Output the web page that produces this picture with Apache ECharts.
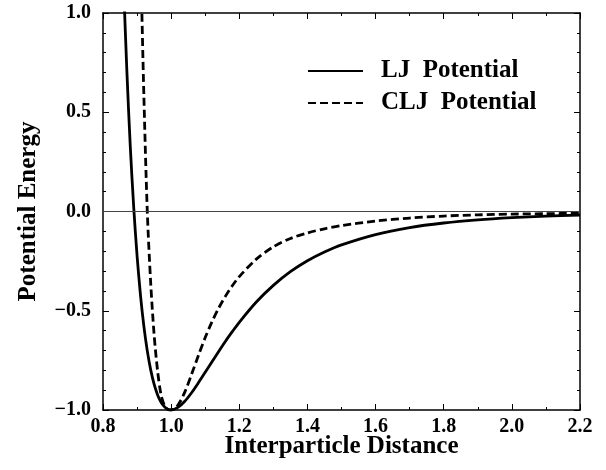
<!DOCTYPE html>
<html>
<head>
<meta charset="utf-8">
<script src="https://cdn.jsdelivr.net/npm/echarts@6/dist/echarts.min.js"></script>
<style>
  html, body { margin: 0; padding: 0; background: #fff; }
  #chart { width: 606px; height: 470px; }
</style>
</head>
<body>
<div id="chart"></div>
<script>
  // values
  var ljX = [0.85, 0.86, 0.87, 0.88, 0.89, 0.90, 0.91, 0.92, 0.93, 0.94, 0.95, 0.96, 0.97, 0.98, 0.99, 1.00,
    1.02, 1.04, 1.06, 1.08, 1.10, 1.12, 1.14, 1.16, 1.18, 1.20, 1.25, 1.30, 1.35, 1.40, 1.45, 1.50,
    1.60, 1.70, 1.80, 1.90, 2.00, 2.10, 2.20];
  var ljY = [1.73, 1.17, 0.71, 0.33, 0.025, -0.223, -0.421, -0.579, -0.702, -0.798, -0.870, -0.923, -0.960, -0.983, -0.996, -1.0,
    -0.987, -0.956, -0.913, -0.863, -0.810, -0.757, -0.704, -0.652, -0.604, -0.558, -0.456, -0.372, -0.303, -0.248, -0.204, -0.168,
    -0.116, -0.081, -0.058, -0.042, -0.031, -0.023, -0.018];

  var cljX = [0.905, 0.91, 0.92, 0.93, 0.94, 0.95, 0.96, 0.97, 0.98, 0.99, 1.00,
    1.02, 1.04, 1.06, 1.08, 1.10, 1.12, 1.14, 1.16, 1.18, 1.20, 1.25, 1.30, 1.35, 1.40, 1.45, 1.50,
    1.60, 1.70, 1.80, 1.90, 2.00, 2.10, 2.20];
  var cljY = [1.6, 1.3, 0.58, 0.0, -0.36, -0.62, -0.80, -0.92, -0.975, -0.997, -1.0,
    -0.975, -0.91, -0.82, -0.725, -0.635, -0.555, -0.485, -0.425, -0.373, -0.328, -0.24, -0.178, -0.136, -0.108, -0.087, -0.071,
    -0.048, -0.033, -0.023, -0.017, -0.013, -0.011, -0.009];

  var seriesNames = ['LJ  Potential', 'CLJ  Potential'];

  function pairs(xs, ys) {
    return xs.map(function (x, i) { return [x, ys[i]]; });
  }

  var font = 'Liberation Serif';
  var fmt = function (v) { return v.toFixed(1).replace('-', '\u2212'); };

  var axisBase = {
    type: 'value',
    axisLine: { show: true, onZero: false, lineStyle: { color: '#000', width: 1.5 } },
    axisTick: { show: true, inside: true, length: 6, lineStyle: { color: '#000', width: 1 } },
    minorTick: { show: true, length: 3, lineStyle: { color: '#000', width: 1 } },
    splitLine: { show: false },
    minorSplitLine: { show: false }
  };

  var myChart = echarts.init(document.getElementById('chart'));
  myChart.setOption({
    animation: false,
    backgroundColor: '#fff',
    grid: { left: 103, right: 26, top: 13, bottom: 60 },
    legend: {
      show: true,
      orient: 'vertical',
      left: 307,
      top: 56,
      padding: 0,
      itemWidth: 55,
      itemHeight: 14,
      itemGap: 2,
      itemStyle: { color: 'transparent', borderWidth: 0, opacity: 0 },
      textStyle: { fontFamily: font, fontWeight: 'bold', fontSize: 25, color: '#000', lineHeight: 30, padding: [0, 0, 0, 13] },
      data: seriesNames
    },
    xAxis: [
      Object.assign({}, axisBase, {
        min: 0.8, max: 2.2, interval: 0.2, position: 'bottom',
        minorTick: Object.assign({}, axisBase.minorTick, { splitNumber: 2 }),
        axisLabel: { formatter: fmt, fontFamily: font, fontWeight: 'bold', fontSize: 20, color: '#000', margin: 7 },
        name: 'Interparticle Distance',
        nameLocation: 'middle',
        nameGap: 24,
        nameMoveOverlap: false,
        nameTextStyle: { fontFamily: font, fontWeight: 'bold', fontSize: 25, color: '#000' }
      }),
      Object.assign({}, axisBase, {
        min: 0.8, max: 2.2, interval: 0.2, position: 'top',
        minorTick: Object.assign({}, axisBase.minorTick, { splitNumber: 2 }),
        axisLabel: { show: false }
      })
    ],
    yAxis: [
      Object.assign({}, axisBase, {
        min: -1, max: 1, interval: 0.5, position: 'left',
        minorTick: Object.assign({}, axisBase.minorTick, { splitNumber: 5 }),
        axisLabel: { formatter: fmt, fontFamily: font, fontWeight: 'bold', fontSize: 20, color: '#000', margin: 12 },
        name: 'Potential Energy',
        nameLocation: 'middle',
        nameGap: 62,
        nameTextStyle: { fontFamily: font, fontWeight: 'bold', fontSize: 25, color: '#000' }
      }),
      Object.assign({}, axisBase, {
        min: -1, max: 1, interval: 0.5, position: 'right',
        minorTick: Object.assign({}, axisBase.minorTick, { splitNumber: 5 }),
        axisLabel: { show: false }
      })
    ],
    series: [
      {
        name: seriesNames[0],
        type: 'line',
        data: pairs(ljX, ljY),
        symbol: 'none',
        smooth: 0.3,
        clip: true,
        lineStyle: { color: '#000', width: 2.8 },
        itemStyle: { color: '#000' },
        markLine: {
          silent: true,
          symbol: 'none',
          label: { show: false },
          lineStyle: { color: '#444', width: 1, type: 'solid' },
          data: [{ yAxis: 0 }]
        }
      },
      {
        name: seriesNames[1],
        type: 'line',
        data: pairs(cljX, cljY),
        symbol: 'none',
        smooth: 0.3,
        clip: true,
        lineStyle: { color: '#000', width: 2.8, type: [8, 4] },
        itemStyle: { color: '#000' }
      }
    ]
  });
</script>
</body>
</html>
